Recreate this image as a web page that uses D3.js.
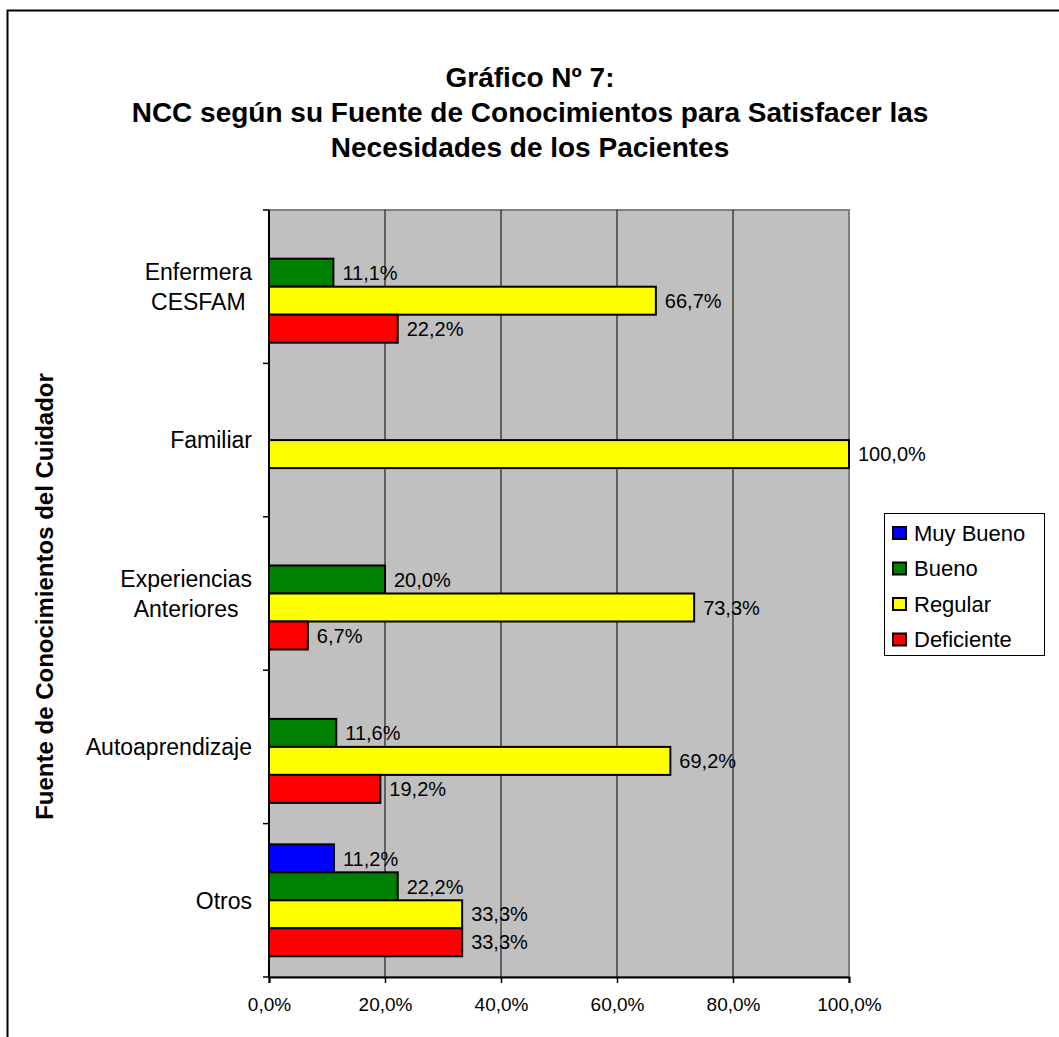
<!DOCTYPE html>
<html>
<head>
<meta charset="utf-8">
<script src="https://cdn.jsdelivr.net/npm/d3@7"></script>
<style>
  html, body { margin: 0; padding: 0; background: #fff; }
  svg { display: block; font-family: "Liberation Sans", Arial, sans-serif; }
</style>
</head>
<body>
<svg id="chart" width="1059" height="1037"></svg>
<script>
// Knowledge source categories (top to bottom), each with two-line label where needed
const categories = ["Enfermera CESFAM", "Familiar", "Experiencias Anteriores", "Autoaprendizaje", "Otros"];
const categoryLines = [["Enfermera", "CESFAM"], ["Familiar"], ["Experiencias", "Anteriores"], ["Autoaprendizaje"], ["Otros"]];

// Rating levels (series)
const series = ["Muy Bueno", "Bueno", "Regular", "Deficiente"];
const seriesColors = ["#0000FF", "#008000", "#FFFF00", "#FF0000"];

// Percentages per category, one array per series (same order as categories)
const muyBueno   = [0,    0,   0,    0,    11.2];
const bueno      = [11.1, 0,   20.0, 11.6, 22.2];
const regular    = [66.7, 100, 73.3, 69.2, 33.3];
const deficiente = [22.2, 0,   6.7,  19.2, 33.3];
const seriesValues = [muyBueno, bueno, regular, deficiente];

const xTicks = [0, 20, 40, 60, 80, 100];

const titleLines = ["Gráfico Nº 7:", "NCC según su Fuente de Conocimientos para Satisfacer las", "Necesidades de los Pacientes"];
const yAxisTitle = "Fuente de Conocimientos del Cuidador";

const fmt = v => v.toFixed(1).replace(".", ",") + "%";

const svg = d3.select("#chart");

// Outer chart frame
svg.append("rect")
  .attr("x", 7.5).attr("y", 10.5)
  .attr("width", 1100).attr("height", 1100)
  .attr("fill", "#fff").attr("stroke", "#000").attr("stroke-width", 2);

const plot = { left: 269, right: 849, top: 210, bottom: 977 };

const x = d3.scaleLinear().domain([0, 100]).range([plot.left, plot.right]);
const y0 = d3.scaleBand().domain(categories).range([plot.top, plot.bottom]).padding(0);
const y1 = d3.scaleBand().domain(series).range([0, y0.bandwidth()]).paddingInner(0).paddingOuter(0.74);

// Plot background
svg.append("rect")
  .attr("x", plot.left).attr("y", plot.top)
  .attr("width", plot.right - plot.left).attr("height", plot.bottom - plot.top)
  .attr("fill", "#C0C0C0").attr("stroke", "#808080").attr("stroke-width", 2);

// Vertical gridlines
svg.append("g").selectAll("line")
  .data(xTicks.slice(1, -1))
  .join("line")
  .attr("x1", d => x(d)).attr("x2", d => x(d))
  .attr("y1", plot.top).attr("y2", plot.bottom)
  .attr("stroke", "#000").attr("stroke-width", 1);

// Bars
const rows = [];
categories.forEach((c, ci) => {
  series.forEach((s, si) => {
    rows.push({ cat: c, ser: s, si, value: seriesValues[si][ci] });
  });
});

const bars = svg.append("g");
bars.selectAll("rect")
  .data(rows.filter(d => d.value > 0))
  .join("rect")
  .attr("x", x(0))
  .attr("y", d => y0(d.cat) + y1(d.ser))
  .attr("width", d => x(d.value) - x(0))
  .attr("height", y1.bandwidth())
  .attr("fill", d => seriesColors[d.si])
  .attr("stroke", "#000").attr("stroke-width", 2);

// Value labels
bars.selectAll("text")
  .data(rows.filter(d => d.value > 0))
  .join("text")
  .attr("x", d => x(d.value) + 9)
  .attr("y", d => y0(d.cat) + y1(d.ser) + y1.bandwidth() / 2)
  .attr("dy", "0.36em")
  .attr("font-size", 20)
  .attr("fill", "#000")
  .text(d => fmt(d.value));

// Left axis
svg.append("line")
  .attr("x1", plot.left).attr("x2", plot.left)
  .attr("y1", plot.top).attr("y2", plot.bottom)
  .attr("stroke", "#000").attr("stroke-width", 2);
const bounds = categories.map(c => y0(c)).concat([plot.bottom]);
svg.append("g").selectAll("line")
  .data(bounds)
  .join("line")
  .attr("x1", plot.left - 6).attr("x2", plot.left)
  .attr("y1", d => d).attr("y2", d => d)
  .attr("stroke", "#000").attr("stroke-width", 1.5);

// Category labels: multi-line centered, block right-aligned
const catG = svg.append("g").attr("font-size", 23).attr("fill", "#000");
categories.forEach((c, i) => {
  const lines = categoryLines[i];
  const g = catG.append("g");
  const lh = 30;
  const cy = y0(c) + y0.bandwidth() / 2;
  const texts = lines.map((ln, li) =>
    g.append("text")
      .attr("y", cy + (li - (lines.length - 1) / 2) * lh)
      .attr("dy", "0.36em")
      .attr("text-anchor", "middle")
      .text(ln));
  const maxW = d3.max(texts, t => t.node().getComputedTextLength());
  texts.forEach(t => t.attr("x", 252 - maxW / 2));
});

// Bottom axis
const xAxis = d3.axisBottom(x)
  .tickValues(xTicks)
  .tickSize(6)
  .tickFormat(d => fmt(d));
const xg = svg.append("g")
  .attr("transform", `translate(0,${plot.bottom})`)
  .call(xAxis);
xg.select(".domain").attr("stroke", "#000").attr("stroke-width", 2);
xg.selectAll(".tick line").attr("stroke", "#000").attr("stroke-width", 1.5);
xg.selectAll(".tick text")
  .attr("font-size", 19)
  .attr("font-family", "Liberation Sans, Arial, sans-serif")
  .attr("fill", "#000")
  .attr("y", 27)
  .attr("dy", "0.36em");

// Title
svg.append("g").selectAll("text")
  .data(titleLines)
  .join("text")
  .attr("x", 530)
  .attr("y", (d, i) => 77 + i * 35)
  .attr("dy", "0.36em")
  .attr("text-anchor", "middle")
  .attr("font-size", 28)
  .attr("font-weight", "bold")
  .attr("fill", "#000")
  .text(d => d);

// Y axis title
svg.append("text")
  .attr("transform", `translate(44,${(plot.top + plot.bottom) / 2 + 3}) rotate(-90)`)
  .attr("dy", "0.36em")
  .attr("text-anchor", "middle")
  .attr("font-size", 24)
  .attr("font-weight", "bold")
  .attr("fill", "#000")
  .text(yAxisTitle);

// Legend
const legend = svg.append("g");
legend.append("rect")
  .attr("x", 884.5).attr("y", 513.5)
  .attr("width", 160).attr("height", 142)
  .attr("fill", "#fff").attr("stroke", "#000").attr("stroke-width", 1);
const items = legend.selectAll("g.item")
  .data(series)
  .join("g")
  .attr("class", "item")
  .attr("transform", (d, i) => `translate(893,${533 + i * 35.5})`);
items.append("rect")
  .attr("x", 0).attr("y", -6)
  .attr("width", 13).attr("height", 12)
  .attr("fill", (d, i) => seriesColors[i])
  .attr("stroke", "#000").attr("stroke-width", 2);
items.append("text")
  .attr("x", 21)
  .attr("dy", "0.36em")
  .attr("font-size", 22)
  .attr("fill", "#000")
  .text(d => d);
</script>
</body>
</html>
